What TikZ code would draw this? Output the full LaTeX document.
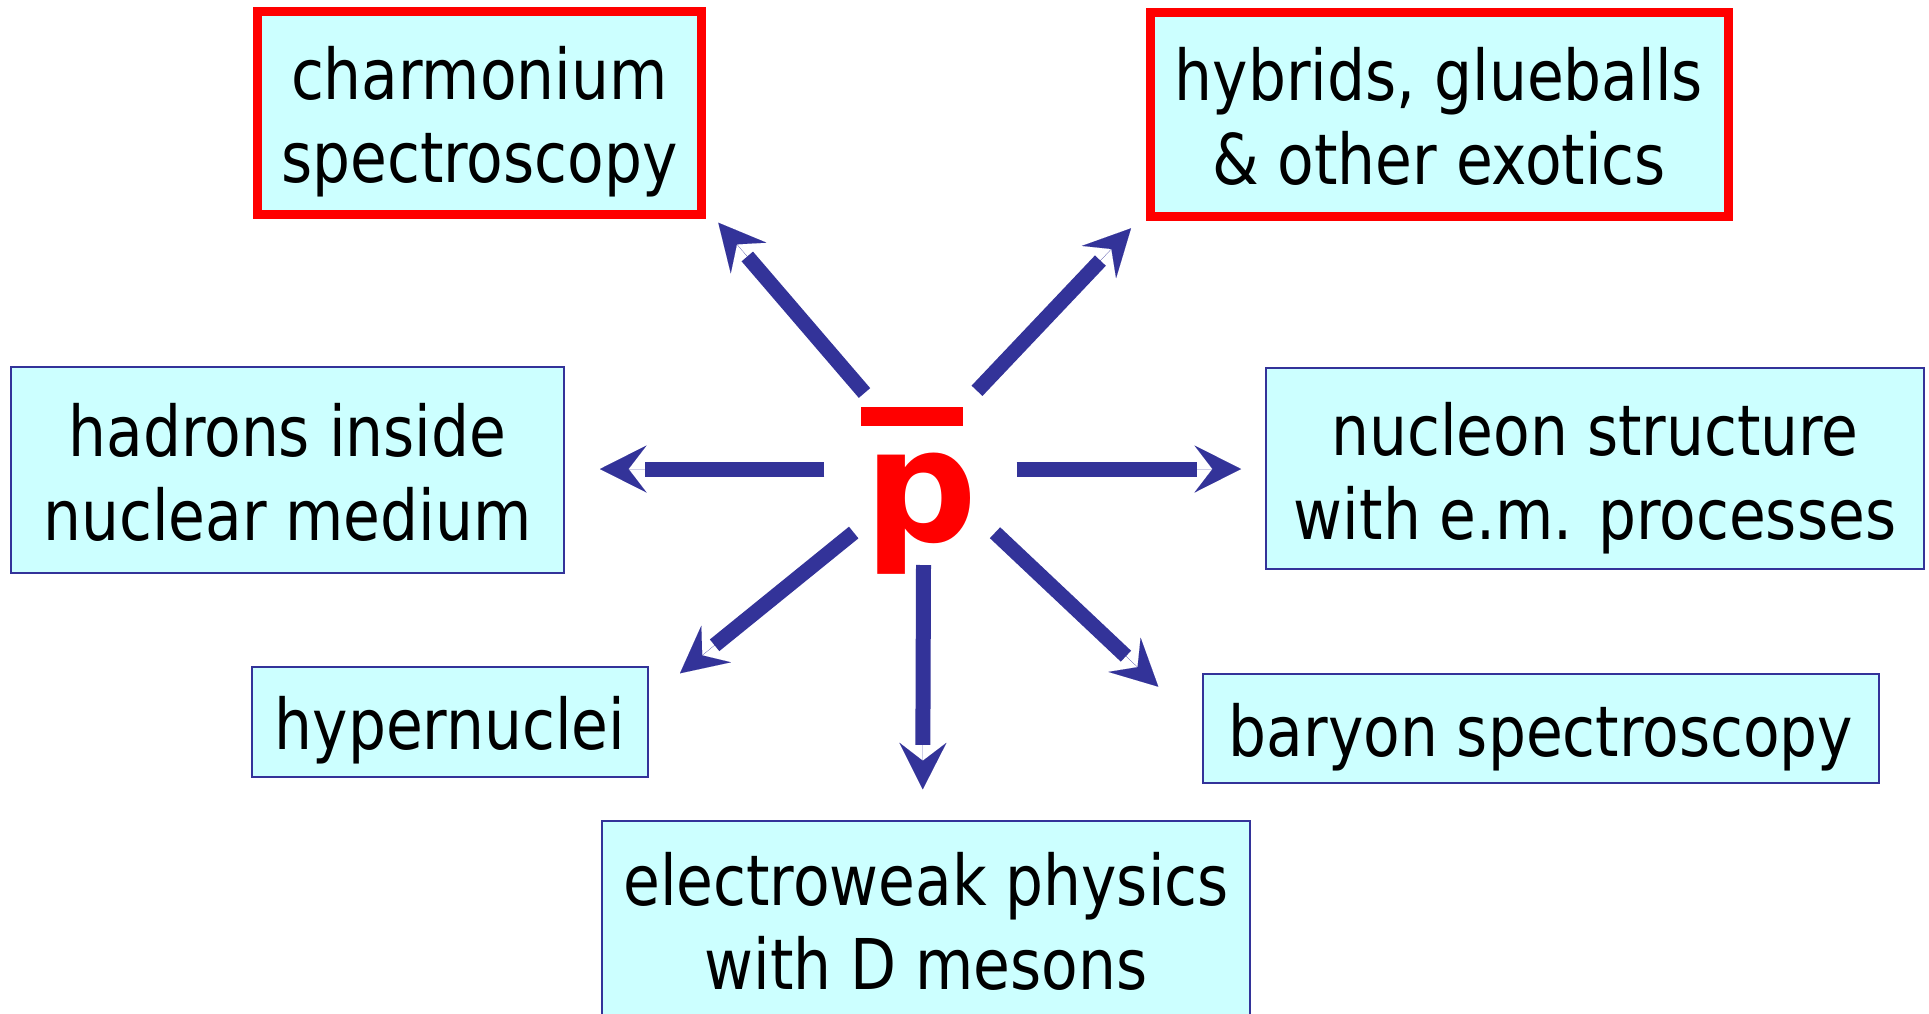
\documentclass[tikz,border=0pt]{standalone}
\usepackage{fontspec}
\setmainfont{DejaVu Sans Condensed}[FakeStretch=0.95]
\newfontfamily\pfont{DejaVu Sans}
\usetikzlibrary{arrows.meta,calc}
\definecolor{boxfill}{HTML}{CCFFFF}
\definecolor{arrowblue}{HTML}{333399}
\definecolor{hotred}{HTML}{FF0000}
\begin{document}
\begin{tikzpicture}[x=1pt,y=-1pt,
  box/.style={draw=arrowblue, line width=2.2pt, fill=boxfill, inner sep=0pt},
  redbox/.style={draw=hotred, line width=9pt, fill=boxfill, inner sep=0pt},
  lbl/.style={anchor=base, inner sep=0pt, font=\fontsize{70}{84}\selectfont, text=black},
  shaft/.style={draw=arrowblue, line width=15pt, shorten >=44.5pt},
  headtip/.style={draw=arrowblue, fill=arrowblue, line width=0.01pt, -{Stealth[length=46.5pt,width=47pt,inset=18pt]}},
]
\useasboundingbox (0,0) rectangle (1929,1013);
\fill[white] (0,0) rectangle (1929,1013);
\clip (0,0) rectangle (1929,1013);

% boxes
\node[redbox, minimum width=443.5pt, minimum height=203pt] (charm) at (479.25,112.5) {};
\node[redbox, minimum width=578pt, minimum height=203.5pt] (hyb) at (1439,114.25) {};
\node[box, minimum width=553pt, minimum height=206pt] (had) at (287.5,470.3) {};
\node[box, minimum width=658.3pt, minimum height=201pt] (nuc) at (1594.85,468.8) {};
\node[box, minimum width=396pt, minimum height=110pt] (hyp) at (450,722) {};
\node[box, minimum width=676.3pt, minimum height=108.4pt] (bar) at (1540.85,728.5) {};
\node[box, minimum width=648pt, minimum height=219pt] (ew) at (926,930.5) {};

% texts
\node[lbl] (charm-a) at (479.3,99) {charmonium};
\node[lbl] (charm-b) at (479.3,182.7) {spectroscopy};
\node[lbl] (hyb-a) at (1439,100) {hybrids, glueballs};
\node[lbl] (hyb-b) at (1439,184) {\& other exotics};
\node[lbl] (had-a) at (287.5,456.7) {hadrons inside};
\node[lbl] (had-b) at (287.5,540) {nuclear medium};
\node[lbl] (nuc-a) at (1595,455) {nucleon structure};
\node[lbl] (nuc-b) at (1595,539.3) {with e.m. processes};
\node[lbl] (hyp-a) at (450,749) {hypernuclei};
\node[lbl] (bar-a) at (1541,756.7) {baryon spectroscopy};
\node[lbl] (ew-a) at (926,905) {electroweak physics};
\node[lbl] (ew-b) at (926,989.3) {with D mesons};

% antiproton
\node[font=\pfont\bfseries\fontsize{158}{158}\selectfont, text=hotred, anchor=base, inner sep=0pt] (pbar) at (921.5,541) {p};
\fill[hotred] (861,407) rectangle (963,426);

% arrows
\coordinate (s1) at (864.5,393);   \coordinate (t1) at (718.3,222.7);
\coordinate (s2) at (977,390.8);   \coordinate (t2) at (1131,228.3);
\coordinate (s3) at (824.3,469);   \coordinate (t3) at (600,469);
\coordinate (s4) at (1016.7,469);  \coordinate (t4) at (1241,469);
\coordinate (s5) at (923.5,565);   \coordinate (t5) at (922.7,789.3);
\coordinate (s6) at (853.7,532.5); \coordinate (t6) at (680,673.3);
\coordinate (s7) at (995,532.7);   \coordinate (t7) at (1158.3,686.7);
\foreach \i in {1,...,7}{
  \draw[shaft] (s\i) -- (t\i);
  \draw[headtip] ($(t\i)!46.5pt!(s\i)$) -- (t\i);
}
\end{tikzpicture}
\end{document}
